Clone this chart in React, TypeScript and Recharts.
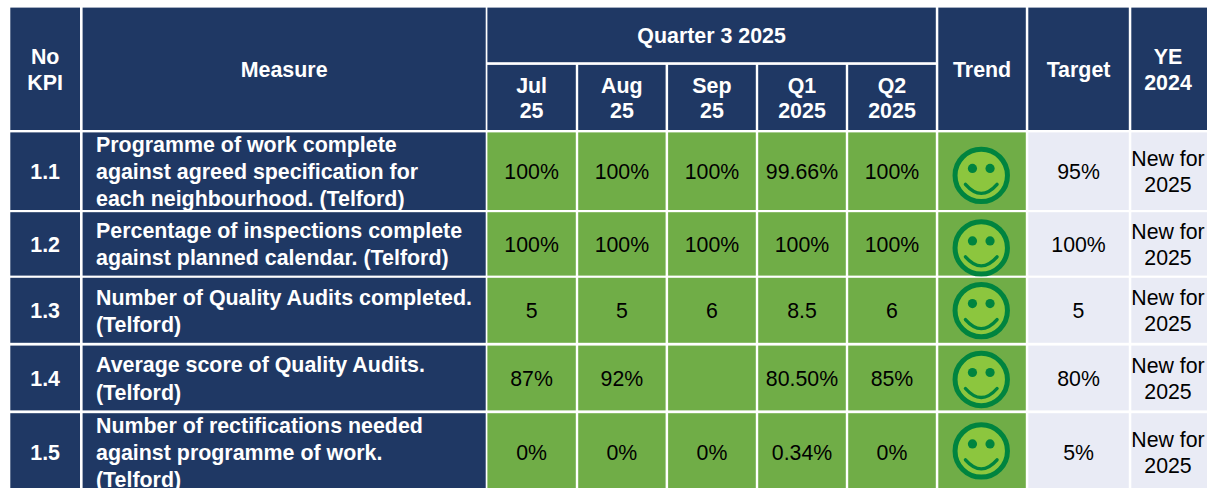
import React from "react";
import { ScatterChart, Scatter, XAxis, YAxis } from "recharts";

// ---- table content ----
const kpiNumbers = ["1.1", "1.2", "1.3", "1.4", "1.5"];
const measures = [
  ["Programme of work complete", "against agreed specification for", "each neighbourhood. (Telford)"],
  ["Percentage of inspections complete", "against planned calendar. (Telford)"],
  ["Number of Quality Audits completed.", "(Telford)"],
  ["Average score of Quality Audits.", "(Telford)"],
  ["Number of rectifications needed", "against programme of work.", "(Telford)"],
];
const periodHeaders = [["Jul", "25"], ["Aug", "25"], ["Sep", "25"], ["Q1", "2025"], ["Q2", "2025"]];
const julValues = ["100%", "100%", "5", "87%", "0%"];
const augValues = ["100%", "100%", "5", "92%", "0%"];
const sepValues = ["100%", "100%", "6", "", "0%"];
const q1Values = ["99.66%", "100%", "8.5", "80.50%", "0.34%"];
const q2Values = ["100%", "100%", "6", "85%", "0%"];
const targets = ["95%", "100%", "5", "80%", "5%"];
const yearEnd = ["New for|2025", "New for|2025", "New for|2025", "New for|2025", "New for|2025"];

// ---- layout (separate from the content) ----
const W = 1207;
const H = 488;
const NAVY = "#1F3864";
const GREEN = "#70AD47";
const PALE = "#E9EBF5";
const FONT = "'Liberation Sans', Arial, sans-serif";
const colEdges: [number, number][] = [
  [10.3, 80],
  [82.6, 485.7],
  [487.4, 575.8],
  [578.2, 665.6],
  [668.1, 755.8],
  [758.2, 845.8],
  [848.2, 935.8],
  [938.3, 1025.8],
  [1028.3, 1128.8],
  [1131.3, 1209],
];
const yeCentre = 1168;
const rowEdges: [number, number][] = [
  [132.4, 210],
  [212.2, 275.6],
  [277.8, 342.8],
  [345.6, 410.4],
  [413.2, 491],
];
const headTop = 7.6;
const headBottom = 130;
const quarterBottom = 62.2;
const subTop = 64.9;
const smileyOffsets = [4.2, 4, 0.3, 1.5, -1.2];

type Cell = {
  x: number; y: number; w: number; h: number; fill: string; color: string;
  bold: boolean; lines: string[]; lineH: number; textX?: number; left?: boolean;
};

const mk = (
  l: number, r: number, t: number, b: number, fill: string, color: string, bold: boolean,
  lines: string[], lineH: number, extra: Partial<Cell> = {}
): Cell => ({ x: (l + r) / 2, y: (t + b) / 2, w: r - l, h: b - t, fill, color, bold, lines, lineH, ...extra });

const headerCells: Cell[] = [
  mk(...colEdges[0], headTop, headBottom, NAVY, "#fff", true, ["No", "KPI"], 26),
  mk(...colEdges[1], headTop, headBottom, NAVY, "#fff", true, ["Measure"], 26),
  mk(colEdges[2][0], colEdges[6][1], headTop, quarterBottom, NAVY, "#fff", true, ["Quarter 3 2025"], 26),
  ...periodHeaders.map((lines, i) =>
    mk(...colEdges[i + 2], subTop, headBottom, NAVY, "#fff", true, lines, 24.8)
  ),
  mk(...colEdges[7], headTop, headBottom, NAVY, "#fff", true, ["Trend"], 26),
  mk(...colEdges[8], headTop, headBottom, NAVY, "#fff", true, ["Target"], 26),
  mk(...colEdges[9], headTop, headBottom, NAVY, "#fff", true, ["YE", "2024"], 26, { textX: yeCentre }),
];

const kpiCells: Cell[] = kpiNumbers.map((n, i) =>
  mk(...colEdges[0], ...rowEdges[i], NAVY, "#fff", true, [n], 26)
);
const measureCells: Cell[] = measures.map((lines, i) =>
  mk(...colEdges[1], ...rowEdges[i], NAVY, "#fff", true, lines, 27.2, { left: true, textX: 96 })
);
const valueCols = [julValues, augValues, sepValues, q1Values, q2Values];
const valueCells: Cell[] = valueCols.flatMap((vals, c) =>
  vals.map((v, i) => mk(...colEdges[c + 2], ...rowEdges[i], GREEN, "#000", false, v ? [v] : [], 26))
);
const trendCells: Cell[] = kpiNumbers.map((_, i) =>
  mk(...colEdges[7], ...rowEdges[i], GREEN, "#000", false, [], 26)
);
const targetCells: Cell[] = targets.map((v, i) =>
  mk(...colEdges[8], ...rowEdges[i], PALE, "#000", false, [v], 26)
);
const yeCells: Cell[] = yearEnd.map((v, i) =>
  mk(...colEdges[9], ...rowEdges[i], PALE, "#000", false, v.split("|"), 25.6, { textX: yeCentre })
);
const smileys = kpiNumbers.map((_, i) => ({
  x: (colEdges[7][0] + colEdges[7][1]) / 2 - 0.8,
  y: (rowEdges[i][0] + rowEdges[i][1]) / 2 + smileyOffsets[i],
}));

const CellShape = (props: any) => {
  const { cx, cy, payload } = props;
  const c: Cell = payload;
  const left = cx - c.w / 2;
  const top = cy - c.h / 2;
  const n = c.lines.length;
  const size = c.bold ? 21.4 : 21.3;
  const tx = c.textX !== undefined ? c.textX - left : c.w / 2;
  return (
    <g>
      <rect x={left} y={top} width={c.w} height={c.h} fill={c.fill} />
      {n > 0 && (
        <svg x={left} y={top} width={c.w} height={c.h} overflow="hidden">
          {c.lines.map((line, i) => (
            <text
              key={i}
              x={tx}
              y={c.h / 2 + 8 + (i - (n - 1) / 2) * c.lineH}
              textAnchor={c.left ? "start" : "middle"}
              fontFamily={FONT}
              fontSize={size}
              fontWeight={c.bold ? 700 : 400}
              fill={c.color}
            >
              {line}
            </text>
          ))}
        </svg>
      )}
    </g>
  );
};

const SmileyShape = (props: any) => {
  const { cx, cy } = props;
  const ring = "#00843F";
  return (
    <g transform={`translate(${cx},${cy})`}>
      <circle r={26.2} fill="#8CC63E" stroke={ring} strokeWidth={5} />
      <circle cx={-8.8} cy={-7} r={4.6} fill={ring} />
      <circle cx={8.8} cy={-7} r={4.6} fill={ring} />
      <path d="M -15.8 9 Q 0 27 15.8 9" fill="none" stroke={ring} strokeWidth={3.4} strokeLinecap="round" />
    </g>
  );
};

const series = [headerCells, kpiCells, measureCells, valueCells, trendCells, targetCells, yeCells];

export default function App() {
  return (
    <div style={{ position: "absolute", left: 0, top: 0, width: W, height: H, background: "#fff" }}>
      <ScatterChart width={W} height={H} margin={{ top: 0, right: 0, bottom: 0, left: 0 }}>
        <XAxis type="number" dataKey="x" domain={[0, W]} hide />
        <YAxis type="number" dataKey="y" domain={[0, H]} reversed hide />
        {series.map((data, i) => (
          <Scatter key={i} data={data} shape={<CellShape />} isAnimationActive={false} />
        ))}
        <Scatter data={smileys} shape={<SmileyShape />} isAnimationActive={false} />
      </ScatterChart>
    </div>
  );
}
